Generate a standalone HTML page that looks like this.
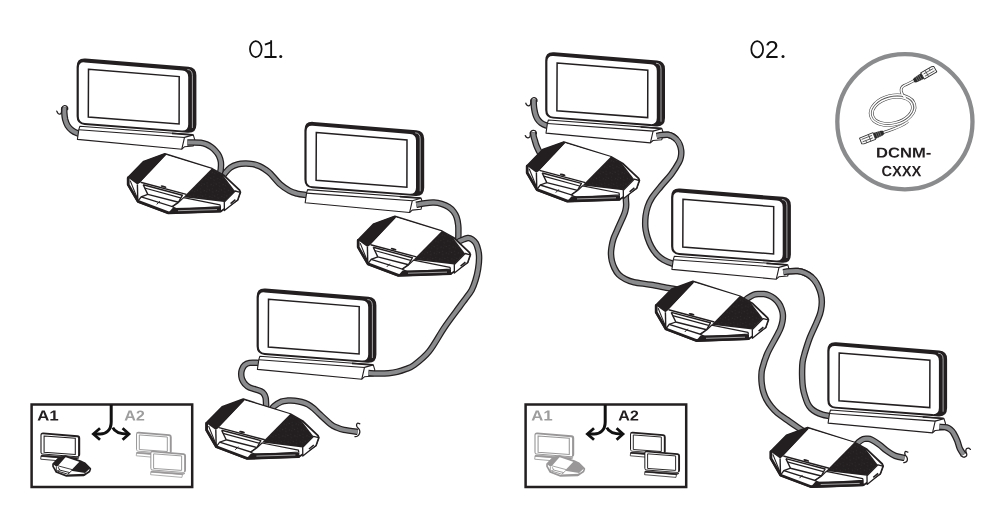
<!DOCTYPE html>
<html><head><meta charset="utf-8"><title>diagram</title>
<style>html,body{margin:0;padding:0;background:#fff;}svg{display:block;}text{font-family:"Liberation Sans",sans-serif;}</style></head><body>
<svg width="1000" height="530" viewBox="0 0 1000 530">
<rect width="1000" height="530" fill="#fff"/>
<defs>
<pattern id="spk" width="9" height="8" patternUnits="userSpaceOnUse" patternTransform="rotate(-42)">
<rect width="9" height="8" fill="#231f20"/>
<circle cx="1.5" cy="1.2" r="0.45" fill="#454142"/><circle cx="4.6" cy="2.6" r="0.4" fill="#3e3a3b"/><circle cx="7.4" cy="0.8" r="0.4" fill="#413d3e"/>
<circle cx="2.8" cy="5.0" r="0.45" fill="#3e3a3b"/><circle cx="6.2" cy="6.2" r="0.45" fill="#454142"/><circle cx="0.6" cy="7.0" r="0.35" fill="#3c3839"/>
</pattern>

<symbol id="scr" overflow="visible">
  <path d="M76.60,66.50 Q76.60,57.50 85.57,58.22 L188.43,66.46 Q196.40,67.10 196.40,75.10 L196.40,124.00 Q196.40,133.00 187.43,132.32 L84.58,124.51 Q76.60,123.90 76.60,115.90 Z" fill="#231f20"/>
  <path d="M187.40,69.13 Q192.40,69.23 192.40,75.23 L192.40,127.63" fill="none" stroke="#fff" stroke-width="0.6"/>
  <path d="M78.80,67.50 Q78.80,61.50 84.78,62.00 L182.22,70.20 Q188.20,70.70 188.20,76.70 L188.20,124.00 Q188.20,130.50 181.72,130.01 L84.78,122.65 Q78.80,122.20 78.80,116.20 Z" fill="#fff"/>
  <polygon points="88.5,68.9 179.2,76.2 179.1,123.5 88.3,116.6" fill="#fff" stroke="#231f20" stroke-width="1.5"/>
  <!-- base -->
  <polygon points="79.8,125.9 193.2,134.3 194.8,139.4 193.2,145.6 184.4,146.4 181.8,148.8 77.4,139.0 78.8,129.2" fill="#fff" stroke="#231f20" stroke-width="1.1" stroke-linejoin="round"/>
  <polyline points="78.8,129.4 184.5,137.0 181.8,148.8" fill="none" stroke="#231f20" stroke-width="1.1"/>
  <polyline points="184.5,137.0 193.2,134.5" fill="none" stroke="#231f20" stroke-width="1.1"/>
  <polyline points="172,132.9 192.6,134.4" fill="none" stroke="#231f20" stroke-width="1.7"/>
</symbol>

<symbol id="con" overflow="visible">
  <!-- outer body -->
  <polygon points="164.9,153.8 143.8,161.5 128.0,177.6 128.0,184.6 137.8,201.6 168.3,213.2 220.6,211.4 237.6,200.0 240.4,192.3 239.6,190.2 224.2,175.6 212,168.7" fill="#fff" stroke="#231f20" stroke-width="1.8" stroke-linejoin="round"/>
  <polyline points="128.2,178 128.2,184.6 138.0,201.4 168.5,212.9 220.4,211.1" fill="none" stroke="#231f20" stroke-width="2.8" stroke-linejoin="round" stroke-linecap="round"/>
  <!-- left dark facet -->
  <polygon points="164.6,153.6 143.8,161.3 127.8,177.6 137.4,184.6 140.6,182.2 166.2,155.4" fill="#231f20"/>
  <!-- top panel -->
  <polygon points="166.2,155.0 212,168.9 186.4,194.4 140.6,182.2" fill="#fff"/>
  <polyline points="140.6,182.2 186.4,194.4" fill="none" stroke="#231f20" stroke-width="1.4"/>
  <!-- speaker grille -->
  <polygon points="211.8,168.5 222.6,174.8 235.0,190.9 224.2,202.0 183.6,197.2 186.8,193.8" fill="url(#spk)"/>
  <!-- left lower bevel -->
  <polyline points="130.2,180.6 137.6,199.0" fill="none" stroke="#231f20" stroke-width="1.1"/>
  <polyline points="137.4,184.6 137.8,201.6" fill="none" stroke="#231f20" stroke-width="1.4"/>
  <!-- front panel lines -->
  <polyline points="143.2,184.8 182.4,195.2 178.6,202.2 147.8,194.4 143.2,184.8" fill="none" stroke="#231f20" stroke-width="1.4" stroke-linejoin="round"/>
  <polyline points="144.6,188.0 180.6,197.8" fill="none" stroke="#231f20" stroke-width="1.2"/>
  <polyline points="137.8,201.4 141.2,196.8 147.8,194.4" fill="none" stroke="#231f20" stroke-width="1.3"/>
  <polyline points="141.2,196.8 172.2,206.6 178.6,202.2" fill="none" stroke="#231f20" stroke-width="1.4"/>
  <polyline points="159.8,201.2 156.8,204.4" fill="none" stroke="#231f20" stroke-width="1"/>
  <!-- small button on top -->
  <ellipse cx="163.6" cy="186.6" rx="3" ry="1.0" transform="rotate(14 163.6 186.6)" fill="#231f20"/>
  <!-- under speaker facets -->
  <polygon points="183.6,197.6 220,204.8 220.4,206.6 177.6,209.4 172.4,206.8 178.6,202.4" fill="#fff" stroke="#231f20" stroke-width="1.2" stroke-linejoin="round"/>
  <polygon points="172.6,208.0 221,207.0 221,211 168.4,212.8" fill="#231f20"/>
  <polyline points="178,210.7 217,209.6" fill="none" stroke="#fff" stroke-width="0.6"/>
  <!-- right side facet -->
  <polygon points="235.2,191.0 240.2,192.3 237.6,200.0 224.4,210.6 224.3,202.0" fill="#fff" stroke="#231f20" stroke-width="1.3" stroke-linejoin="round"/>
  <polyline points="230.6,203.6 235.4,199.6" fill="none" stroke="#231f20" stroke-width="1.5"/>
</symbol>

<symbol id="scrm" overflow="visible">
  <path d="M76.60,66.50 Q76.60,57.50 85.57,58.22 L188.43,66.46 Q196.40,67.10 196.40,75.10 L196.40,124.00 Q196.40,133.00 187.43,132.32 L84.58,124.51 Q76.60,123.90 76.60,115.90 Z" fill="#231f20"/>
  <path d="M80.00,66.40 Q80.00,63.40 82.99,63.64 L187.01,72.16 Q190.00,72.40 190.00,75.40 L190.00,126.80 Q190.00,129.80 187.01,129.56 L82.99,121.24 Q80.00,121.00 80.00,118.00 Z" fill="#fff"/>
  <polygon points="87.6,68.6 181.6,75.6 181.6,124.2 87.6,117.6" fill="#fff" stroke="#231f20" stroke-width="3.2"/>
  <polygon points="78.4,129.2 184.5,137.4 182.8,147.6 77.4,138.6" fill="#fff" stroke="#231f20" stroke-width="2.6" stroke-linejoin="round"/>
  <polygon points="79.6,126.0 193,134.4 184.5,138.4 78.4,130.0" fill="#231f20" stroke="#231f20" stroke-width="2" stroke-linejoin="round"/>
</symbol>

<symbol id="conm" overflow="visible">
  <polygon points="164.9,153.8 143.8,161.5 128.0,177.6 128.0,184.6 137.8,201.6 168.3,213.2 220.6,211.4 237.6,200.0 240.2,192.3 239.0,190.2 224,175.2 209.5,168.8" fill="#fff" stroke="#231f20" stroke-width="5" stroke-linejoin="round"/>
  <polygon points="164.9,153.6 143.8,161.3 127.8,177.6 138,186 143,183 166.6,156" fill="#231f20"/>
  <polygon points="209.2,168.6 223.9,175 239.2,190.4 224.4,204.6 182.0,198.0 185.6,193.4" fill="#231f20"/>
  <polyline points="143,183 185.6,194.4" fill="none" stroke="#231f20" stroke-width="2.6"/>
  <polyline points="138,186 137.8,201.6" fill="none" stroke="#231f20" stroke-width="2.6"/>
  <polyline points="143.6,187 148,195.6 178.4,203.4 183,198" fill="none" stroke="#231f20" stroke-width="2.8"/>
  <polyline points="137.8,201.4 141,197.6 148,195.6" fill="none" stroke="#231f20" stroke-width="2.4"/>
  <polyline points="141,198.6 172.2,208.0 178.4,203.4" fill="none" stroke="#231f20" stroke-width="2.8"/>
  <polygon points="172.6,209.2 224,206.6 224,211.4 168.4,213" fill="#231f20"/>
  <polyline points="224.4,204.6 224.4,211" fill="none" stroke="#231f20" stroke-width="2.6"/>
</symbol>
</defs>
<ellipse cx="255.8" cy="49.05" rx="5.85" ry="8.0" fill="none" stroke="#111" stroke-width="1.75"/>
<path d="M264.9,44.6 L271.15,42.4 M271.15,40.3 V57 M264.5,57 H276.6" fill="none" stroke="#111" stroke-width="1.85"/>
<circle cx="280.75" cy="56.6" r="1.5" fill="#111"/>
<ellipse cx="757.2" cy="49.15" rx="5.9" ry="8.1" fill="none" stroke="#111" stroke-width="1.75"/>
<g transform="translate(764.941,57.9) scale(0.01222,-0.01186)" fill="#111"><path transform="translate(0,0)" d="M103 0V127Q154 244 227.5 333.5Q301 423 382.0 495.5Q463 568 542.5 630.0Q622 692 686.0 754.0Q750 816 789.5 884.0Q829 952 829 1038Q829 1154 761.0 1218.0Q693 1282 572 1282Q457 1282 382.5 1219.5Q308 1157 295 1044L111 1061Q131 1230 254.5 1330.0Q378 1430 572 1430Q785 1430 899.5 1329.5Q1014 1229 1014 1044Q1014 962 976.5 881.0Q939 800 865.0 719.0Q791 638 582 468Q467 374 399.0 298.5Q331 223 301 153H1036V0Z"/></g>
<circle cx="783" cy="56.6" r="1.5" fill="#111"/>
<path d="M64.4,107.2 C64.4,108.1 64.2,110.5 64.3,112.5 C64.4,114.5 64.7,117.3 65.2,119.5 C65.8,121.7 66.5,123.8 67.6,125.6 C68.7,127.4 70.3,129.1 72.0,130.4 C73.7,131.7 75.8,132.6 77.5,133.3 C79.2,134.0 81.2,134.4 82.0,134.6" fill="none" stroke="#231f20" stroke-width="6.5" stroke-linecap="butt" stroke-linejoin="round"/>
<path d="M64.4,107.2 C64.4,108.1 64.2,110.5 64.3,112.5 C64.4,114.5 64.7,117.3 65.2,119.5 C65.8,121.7 66.5,123.8 67.6,125.6 C68.7,127.4 70.3,129.1 72.0,130.4 C73.7,131.7 75.8,132.6 77.5,133.3 C79.2,134.0 81.2,134.4 82.0,134.6" fill="none" stroke="#8a8b8d" stroke-width="4.0" stroke-linecap="butt" stroke-linejoin="round"/>
<path d="M222.0,177.0 C222.4,176.4 223.2,175.2 224.6,173.6 C226.0,172.0 228.2,169.1 230.4,167.6 C232.6,166.1 235.2,165.1 237.7,164.4 C240.2,163.7 242.8,163.6 245.3,163.5 C247.8,163.4 250.4,163.7 252.8,164.1 C255.2,164.5 257.6,165.3 259.6,166.2 C261.6,167.1 263.2,168.1 265.0,169.4 C266.8,170.7 268.1,171.3 270.6,173.8 C273.1,176.3 276.9,181.4 280.0,184.2 C283.1,187.0 286.6,189.2 289.4,190.8 C292.2,192.4 294.3,192.9 297.0,193.6 C299.7,194.3 303.0,194.6 305.5,194.9 C308.0,195.2 310.9,195.3 312.0,195.4" fill="none" stroke="#231f20" stroke-width="6.5" stroke-linecap="butt" stroke-linejoin="round"/>
<path d="M222.0,177.0 C222.4,176.4 223.2,175.2 224.6,173.6 C226.0,172.0 228.2,169.1 230.4,167.6 C232.6,166.1 235.2,165.1 237.7,164.4 C240.2,163.7 242.8,163.6 245.3,163.5 C247.8,163.4 250.4,163.7 252.8,164.1 C255.2,164.5 257.6,165.3 259.6,166.2 C261.6,167.1 263.2,168.1 265.0,169.4 C266.8,170.7 268.1,171.3 270.6,173.8 C273.1,176.3 276.9,181.4 280.0,184.2 C283.1,187.0 286.6,189.2 289.4,190.8 C292.2,192.4 294.3,192.9 297.0,193.6 C299.7,194.3 303.0,194.6 305.5,194.9 C308.0,195.2 310.9,195.3 312.0,195.4" fill="none" stroke="#8a8b8d" stroke-width="4.0" stroke-linecap="butt" stroke-linejoin="round"/>
<path d="M263.0,363.6 C262.2,363.5 260.2,363.0 258.0,362.9 C255.8,362.8 251.8,362.5 249.5,362.9 C247.2,363.3 245.8,364.1 244.5,365.2 C243.2,366.3 242.6,368.0 242.0,369.5 C241.4,371.0 241.2,372.4 241.2,374.0 C241.2,375.6 241.4,377.4 242.0,379.0 C242.6,380.6 243.6,382.4 244.8,383.8 C246.1,385.2 246.8,386.3 249.5,387.5 C252.2,388.7 258.4,390.1 260.8,391.2 C263.2,392.3 263.2,392.9 264.0,394.0 C264.8,395.1 265.2,396.1 265.6,397.8 C266.0,399.5 266.0,402.5 266.1,404.4 C266.2,406.3 266.2,408.2 266.2,409.0" fill="none" stroke="#231f20" stroke-width="6.5" stroke-linecap="butt" stroke-linejoin="round"/>
<path d="M263.0,363.6 C262.2,363.5 260.2,363.0 258.0,362.9 C255.8,362.8 251.8,362.5 249.5,362.9 C247.2,363.3 245.8,364.1 244.5,365.2 C243.2,366.3 242.6,368.0 242.0,369.5 C241.4,371.0 241.2,372.4 241.2,374.0 C241.2,375.6 241.4,377.4 242.0,379.0 C242.6,380.6 243.6,382.4 244.8,383.8 C246.1,385.2 246.8,386.3 249.5,387.5 C252.2,388.7 258.4,390.1 260.8,391.2 C263.2,392.3 263.2,392.9 264.0,394.0 C264.8,395.1 265.2,396.1 265.6,397.8 C266.0,399.5 266.0,402.5 266.1,404.4 C266.2,406.3 266.2,408.2 266.2,409.0" fill="none" stroke="#8a8b8d" stroke-width="4.0" stroke-linecap="butt" stroke-linejoin="round"/>
<path d="M272.0,409.5 C272.3,409.0 272.4,407.6 274.0,406.3 C275.6,405.0 279.3,402.6 281.6,401.6 C283.9,400.7 285.8,400.8 288.0,400.6 C290.2,400.5 292.6,400.5 294.8,400.7 C297.1,400.9 299.3,401.4 301.5,402.0 C303.7,402.6 305.9,403.3 308.0,404.4 C310.1,405.5 311.9,407.0 313.8,408.6 C315.7,410.2 316.5,411.3 319.3,413.9 C322.1,416.5 327.8,421.9 330.7,424.2 C333.6,426.5 334.8,426.7 337.0,427.6 C339.2,428.6 340.5,429.2 343.9,429.9 C347.3,430.6 355.3,431.6 357.6,431.9" fill="none" stroke="#231f20" stroke-width="6.5" stroke-linecap="butt" stroke-linejoin="round"/>
<path d="M272.0,409.5 C272.3,409.0 272.4,407.6 274.0,406.3 C275.6,405.0 279.3,402.6 281.6,401.6 C283.9,400.7 285.8,400.8 288.0,400.6 C290.2,400.5 292.6,400.5 294.8,400.7 C297.1,400.9 299.3,401.4 301.5,402.0 C303.7,402.6 305.9,403.3 308.0,404.4 C310.1,405.5 311.9,407.0 313.8,408.6 C315.7,410.2 316.5,411.3 319.3,413.9 C322.1,416.5 327.8,421.9 330.7,424.2 C333.6,426.5 334.8,426.7 337.0,427.6 C339.2,428.6 340.5,429.2 343.9,429.9 C347.3,430.6 355.3,431.6 357.6,431.9" fill="none" stroke="#8a8b8d" stroke-width="4.0" stroke-linecap="butt" stroke-linejoin="round"/>
<path d="M533.7,99.6 C533.7,100.5 533.7,103.3 533.8,105.0 C533.9,106.7 534.1,108.2 534.4,109.8 C534.7,111.4 535.0,113.0 535.5,114.6 C536.0,116.1 536.6,117.7 537.5,119.1 C538.4,120.5 539.6,121.8 541.0,122.8 C542.4,123.8 544.3,124.8 546.0,125.4 C547.7,126.0 550.2,126.4 551.0,126.6" fill="none" stroke="#231f20" stroke-width="6.5" stroke-linecap="butt" stroke-linejoin="round"/>
<path d="M533.7,99.6 C533.7,100.5 533.7,103.3 533.8,105.0 C533.9,106.7 534.1,108.2 534.4,109.8 C534.7,111.4 535.0,113.0 535.5,114.6 C536.0,116.1 536.6,117.7 537.5,119.1 C538.4,120.5 539.6,121.8 541.0,122.8 C542.4,123.8 544.3,124.8 546.0,125.4 C547.7,126.0 550.2,126.4 551.0,126.6" fill="none" stroke="#8a8b8d" stroke-width="4.0" stroke-linecap="butt" stroke-linejoin="round"/>
<path d="M533.1,132.2 C533.2,133.0 533.5,135.7 533.8,137.0 C534.1,138.3 534.4,138.9 534.8,140.2 C535.2,141.5 535.7,143.5 536.2,145.0 C536.8,146.5 537.4,147.9 538.1,149.4 C538.8,150.9 539.7,152.4 540.5,154.0 C541.3,155.6 542.6,158.2 543.0,159.0" fill="none" stroke="#231f20" stroke-width="6.5" stroke-linecap="butt" stroke-linejoin="round"/>
<path d="M533.1,132.2 C533.2,133.0 533.5,135.7 533.8,137.0 C534.1,138.3 534.4,138.9 534.8,140.2 C535.2,141.5 535.7,143.5 536.2,145.0 C536.8,146.5 537.4,147.9 538.1,149.4 C538.8,150.9 539.7,152.4 540.5,154.0 C541.3,155.6 542.6,158.2 543.0,159.0" fill="none" stroke="#8a8b8d" stroke-width="4.0" stroke-linecap="butt" stroke-linejoin="round"/>
<path d="M626.5,192.0 C626.4,192.9 625.8,195.1 625.8,197.2 C625.8,199.3 626.2,202.7 626.2,204.8 C626.2,206.9 625.9,208.3 625.5,210.0 C625.1,211.7 625.2,211.8 623.8,215.2 C622.4,218.6 618.7,226.5 617.0,230.5 C615.3,234.5 614.3,236.2 613.4,239.0 C612.5,241.8 611.9,244.9 611.5,247.4 C611.1,249.9 610.9,251.7 611.0,254.0 C611.1,256.3 611.3,258.7 611.9,261.0 C612.5,263.3 613.3,265.7 614.4,268.0 C615.5,270.3 616.9,272.7 618.7,274.6 C620.5,276.5 622.9,277.9 625.4,279.2 C627.9,280.5 629.8,281.3 634.0,282.2 C638.2,283.1 645.0,283.8 650.9,284.8 C656.8,285.8 664.4,287.3 669.6,288.2 C674.8,289.1 677.9,289.6 682.0,290.4 C686.1,291.2 692.0,292.6 694.0,293.0" fill="none" stroke="#231f20" stroke-width="6.5" stroke-linecap="butt" stroke-linejoin="round"/>
<path d="M626.5,192.0 C626.4,192.9 625.8,195.1 625.8,197.2 C625.8,199.3 626.2,202.7 626.2,204.8 C626.2,206.9 625.9,208.3 625.5,210.0 C625.1,211.7 625.2,211.8 623.8,215.2 C622.4,218.6 618.7,226.5 617.0,230.5 C615.3,234.5 614.3,236.2 613.4,239.0 C612.5,241.8 611.9,244.9 611.5,247.4 C611.1,249.9 610.9,251.7 611.0,254.0 C611.1,256.3 611.3,258.7 611.9,261.0 C612.5,263.3 613.3,265.7 614.4,268.0 C615.5,270.3 616.9,272.7 618.7,274.6 C620.5,276.5 622.9,277.9 625.4,279.2 C627.9,280.5 629.8,281.3 634.0,282.2 C638.2,283.1 645.0,283.8 650.9,284.8 C656.8,285.8 664.4,287.3 669.6,288.2 C674.8,289.1 677.9,289.6 682.0,290.4 C686.1,291.2 692.0,292.6 694.0,293.0" fill="none" stroke="#8a8b8d" stroke-width="4.0" stroke-linecap="butt" stroke-linejoin="round"/>
<path d="M744.0,301.5 C744.6,300.9 746.1,299.3 747.7,298.2 C749.3,297.1 751.9,295.5 753.7,294.8 C755.5,294.1 756.9,294.1 758.6,294.0 C760.3,293.9 762.1,293.8 763.9,294.0 C765.7,294.2 767.5,294.7 769.2,295.4 C770.9,296.1 772.4,296.9 774.0,298.2 C775.6,299.5 777.3,301.2 778.6,303.0 C779.9,304.8 781.0,307.2 781.7,309.2 C782.4,311.2 782.8,313.0 782.9,315.0 C783.0,317.0 782.9,318.9 782.5,321.1 C782.1,323.3 781.5,325.7 780.6,328.0 C779.8,330.3 779.6,330.4 777.4,334.7 C775.2,339.0 769.8,347.9 767.3,353.6 C764.8,359.3 763.2,365.1 762.2,368.9 C761.2,372.7 761.5,374.0 761.4,376.5 C761.3,379.0 761.5,381.5 761.8,384.1 C762.1,386.7 762.6,389.4 763.4,392.0 C764.2,394.6 765.1,397.0 766.4,399.4 C767.7,401.8 769.4,404.3 771.2,406.6 C773.0,408.9 774.4,410.5 777.4,413.0 C780.4,415.5 785.9,419.1 789.3,421.5 C792.7,423.9 795.0,425.5 797.8,427.4 C800.6,429.3 804.6,432.1 806.0,433.0" fill="none" stroke="#231f20" stroke-width="6.5" stroke-linecap="butt" stroke-linejoin="round"/>
<path d="M744.0,301.5 C744.6,300.9 746.1,299.3 747.7,298.2 C749.3,297.1 751.9,295.5 753.7,294.8 C755.5,294.1 756.9,294.1 758.6,294.0 C760.3,293.9 762.1,293.8 763.9,294.0 C765.7,294.2 767.5,294.7 769.2,295.4 C770.9,296.1 772.4,296.9 774.0,298.2 C775.6,299.5 777.3,301.2 778.6,303.0 C779.9,304.8 781.0,307.2 781.7,309.2 C782.4,311.2 782.8,313.0 782.9,315.0 C783.0,317.0 782.9,318.9 782.5,321.1 C782.1,323.3 781.5,325.7 780.6,328.0 C779.8,330.3 779.6,330.4 777.4,334.7 C775.2,339.0 769.8,347.9 767.3,353.6 C764.8,359.3 763.2,365.1 762.2,368.9 C761.2,372.7 761.5,374.0 761.4,376.5 C761.3,379.0 761.5,381.5 761.8,384.1 C762.1,386.7 762.6,389.4 763.4,392.0 C764.2,394.6 765.1,397.0 766.4,399.4 C767.7,401.8 769.4,404.3 771.2,406.6 C773.0,408.9 774.4,410.5 777.4,413.0 C780.4,415.5 785.9,419.1 789.3,421.5 C792.7,423.9 795.0,425.5 797.8,427.4 C800.6,429.3 804.6,432.1 806.0,433.0" fill="none" stroke="#8a8b8d" stroke-width="4.0" stroke-linecap="butt" stroke-linejoin="round"/>
<path d="M855.5,446.0 C856.0,445.4 856.9,443.8 858.2,442.6 C859.5,441.5 862.0,439.7 863.5,439.1 C865.0,438.5 866.1,438.7 867.4,438.8 C868.7,438.9 869.4,438.6 871.4,439.6 C873.4,440.6 876.6,442.7 879.3,444.6 C881.9,446.5 884.6,449.3 887.3,451.2 C889.9,453.1 892.3,454.8 895.2,455.9 C898.1,457.0 903.0,457.6 904.6,457.9" fill="none" stroke="#231f20" stroke-width="6.5" stroke-linecap="butt" stroke-linejoin="round"/>
<path d="M855.5,446.0 C856.0,445.4 856.9,443.8 858.2,442.6 C859.5,441.5 862.0,439.7 863.5,439.1 C865.0,438.5 866.1,438.7 867.4,438.8 C868.7,438.9 869.4,438.6 871.4,439.6 C873.4,440.6 876.6,442.7 879.3,444.6 C881.9,446.5 884.6,449.3 887.3,451.2 C889.9,453.1 892.3,454.8 895.2,455.9 C898.1,457.0 903.0,457.6 904.6,457.9" fill="none" stroke="#8a8b8d" stroke-width="4.0" stroke-linecap="butt" stroke-linejoin="round"/>
<path d="M656.6,136.0 C657.5,135.8 660.1,135.2 662.0,135.0 C663.9,134.8 666.1,134.6 667.9,134.8 C669.7,135.0 671.2,135.6 672.6,136.4 C674.0,137.2 675.2,138.1 676.4,139.4 C677.6,140.7 678.8,142.6 679.6,144.4 C680.4,146.2 681.0,148.5 681.2,150.5 C681.4,152.5 681.3,154.6 680.9,156.6 C680.5,158.6 680.5,159.5 678.9,162.4 C677.3,165.3 674.3,170.2 671.3,174.2 C668.3,178.1 664.4,182.1 661.1,186.1 C657.9,190.1 654.0,194.5 651.8,198.0 C649.5,201.5 648.6,204.0 647.6,207.0 C646.6,210.0 646.0,213.2 645.6,216.0 C645.2,218.8 645.2,221.7 645.2,224.0 C645.2,226.3 645.3,227.8 645.7,230.0 C646.1,232.2 646.6,234.7 647.5,237.5 C648.4,240.3 649.8,243.8 651.3,246.6 C652.8,249.4 654.6,252.0 656.6,254.2 C658.6,256.4 660.8,258.2 663.4,259.8 C666.0,261.4 669.7,262.7 672.5,263.6 C675.3,264.5 678.8,264.8 680.0,265.0" fill="none" stroke="#231f20" stroke-width="6.5" stroke-linecap="butt" stroke-linejoin="round"/>
<path d="M656.6,136.0 C657.5,135.8 660.1,135.2 662.0,135.0 C663.9,134.8 666.1,134.6 667.9,134.8 C669.7,135.0 671.2,135.6 672.6,136.4 C674.0,137.2 675.2,138.1 676.4,139.4 C677.6,140.7 678.8,142.6 679.6,144.4 C680.4,146.2 681.0,148.5 681.2,150.5 C681.4,152.5 681.3,154.6 680.9,156.6 C680.5,158.6 680.5,159.5 678.9,162.4 C677.3,165.3 674.3,170.2 671.3,174.2 C668.3,178.1 664.4,182.1 661.1,186.1 C657.9,190.1 654.0,194.5 651.8,198.0 C649.5,201.5 648.6,204.0 647.6,207.0 C646.6,210.0 646.0,213.2 645.6,216.0 C645.2,218.8 645.2,221.7 645.2,224.0 C645.2,226.3 645.3,227.8 645.7,230.0 C646.1,232.2 646.6,234.7 647.5,237.5 C648.4,240.3 649.8,243.8 651.3,246.6 C652.8,249.4 654.6,252.0 656.6,254.2 C658.6,256.4 660.8,258.2 663.4,259.8 C666.0,261.4 669.7,262.7 672.5,263.6 C675.3,264.5 678.8,264.8 680.0,265.0" fill="none" stroke="#8a8b8d" stroke-width="4.0" stroke-linecap="butt" stroke-linejoin="round"/>
<path d="M783.2,272.2 C784.3,272.0 787.6,271.4 790.0,271.2 C792.4,271.0 795.3,270.7 797.8,271.0 C800.3,271.3 802.7,272.0 805.0,273.0 C807.3,274.0 809.5,275.3 811.4,277.0 C813.3,278.7 815.0,280.7 816.4,283.0 C817.8,285.3 819.0,288.1 819.9,290.6 C820.8,293.1 821.3,295.5 821.6,298.0 C821.9,300.5 821.9,303.1 821.6,305.8 C821.3,308.5 820.9,311.2 820.0,314.0 C819.1,316.8 818.2,318.8 816.5,322.8 C814.8,326.8 811.7,332.9 809.7,338.0 C807.7,343.1 805.8,349.6 804.6,353.6 C803.4,357.6 803.0,359.2 802.6,362.0 C802.2,364.8 802.2,367.8 802.1,370.6 C802.0,373.4 802.1,376.2 802.2,379.0 C802.3,381.8 802.5,384.7 802.9,387.5 C803.3,390.3 804.0,393.0 804.8,395.6 C805.6,398.2 806.6,401.3 807.6,403.4 C808.6,405.5 809.6,407.0 811.0,408.4 C812.4,409.8 814.1,411.0 816.0,412.0 C817.9,413.0 820.2,413.9 822.4,414.6 C824.6,415.3 826.9,415.6 829.2,416.0 C831.5,416.4 834.9,416.7 836.0,416.8" fill="none" stroke="#231f20" stroke-width="6.5" stroke-linecap="butt" stroke-linejoin="round"/>
<path d="M783.2,272.2 C784.3,272.0 787.6,271.4 790.0,271.2 C792.4,271.0 795.3,270.7 797.8,271.0 C800.3,271.3 802.7,272.0 805.0,273.0 C807.3,274.0 809.5,275.3 811.4,277.0 C813.3,278.7 815.0,280.7 816.4,283.0 C817.8,285.3 819.0,288.1 819.9,290.6 C820.8,293.1 821.3,295.5 821.6,298.0 C821.9,300.5 821.9,303.1 821.6,305.8 C821.3,308.5 820.9,311.2 820.0,314.0 C819.1,316.8 818.2,318.8 816.5,322.8 C814.8,326.8 811.7,332.9 809.7,338.0 C807.7,343.1 805.8,349.6 804.6,353.6 C803.4,357.6 803.0,359.2 802.6,362.0 C802.2,364.8 802.2,367.8 802.1,370.6 C802.0,373.4 802.1,376.2 802.2,379.0 C802.3,381.8 802.5,384.7 802.9,387.5 C803.3,390.3 804.0,393.0 804.8,395.6 C805.6,398.2 806.6,401.3 807.6,403.4 C808.6,405.5 809.6,407.0 811.0,408.4 C812.4,409.8 814.1,411.0 816.0,412.0 C817.9,413.0 820.2,413.9 822.4,414.6 C824.6,415.3 826.9,415.6 829.2,416.0 C831.5,416.4 834.9,416.7 836.0,416.8" fill="none" stroke="#8a8b8d" stroke-width="4.0" stroke-linecap="butt" stroke-linejoin="round"/>
<path d="M56.8,111.2 C57.0,111.6 57.5,112.9 58.0,113.4 C58.5,113.9 59.3,114.2 59.8,114.2 C60.3,114.2 60.9,113.7 61.2,113.2 C61.5,112.7 61.5,111.8 61.6,111.0 C61.7,110.2 61.4,109.3 61.6,108.6 C61.8,107.9 62.1,107.1 62.6,106.6 C63.1,106.1 63.9,105.7 64.6,105.6 C65.3,105.5 66.1,105.8 66.6,106.2 C67.1,106.6 67.4,107.2 67.6,107.8 C67.8,108.4 67.6,109.3 67.6,109.6" fill="none" stroke="#231f20" stroke-width="1.3" stroke-linecap="round"/>
<path d="M525.8,103.2 C526.0,103.5 526.3,104.6 526.8,105.0 C527.3,105.4 528.0,105.8 528.6,105.8 C529.2,105.8 529.8,105.3 530.2,104.8 C530.6,104.3 530.7,103.5 530.8,102.8 C530.9,102.1 530.6,101.3 530.8,100.6 C531.0,99.9 531.3,99.1 531.8,98.6 C532.3,98.1 533.1,97.7 533.8,97.6 C534.5,97.5 535.3,97.8 535.8,98.2 C536.3,98.6 536.7,99.3 536.9,99.8 C537.1,100.3 536.9,101.1 536.9,101.4" fill="none" stroke="#231f20" stroke-width="1.3" stroke-linecap="round"/>
<path d="M525.3,135.6 C525.5,135.9 525.9,136.8 526.4,137.2 C526.9,137.6 527.6,137.9 528.2,137.8 C528.8,137.7 529.4,137.3 529.8,136.8 C530.1,136.3 530.2,135.6 530.3,135.0 C530.4,134.4 530.1,133.6 530.2,133.0 C530.4,132.4 530.7,131.6 531.2,131.2 C531.7,130.8 532.5,130.5 533.2,130.4 C533.9,130.3 534.7,130.5 535.2,130.8 C535.7,131.1 536.0,131.9 536.2,132.4 C536.4,132.9 536.3,133.6 536.3,133.8" fill="none" stroke="#231f20" stroke-width="1.3" stroke-linecap="round"/>
<path d="M359.8,423.8 C359.5,423.7 358.3,423.1 357.8,423.2 C357.3,423.3 356.7,424.0 356.6,424.6 C356.5,425.2 356.6,426.1 357.0,426.8 C357.4,427.5 358.3,428.1 358.8,428.8 C359.3,429.5 359.7,430.3 359.8,431.2 C359.9,432.1 359.6,433.4 359.2,434.2 C358.8,435.0 357.9,435.8 357.2,436.2 C356.5,436.6 355.4,436.5 355.0,436.6" fill="none" stroke="#231f20" stroke-width="1.3" stroke-linecap="round"/>
<path d="M907.8,452.2 C907.5,452.1 906.3,451.3 905.8,451.4 C905.3,451.5 904.9,452.2 904.8,452.8 C904.7,453.4 904.9,454.3 905.2,455.0 C905.5,455.7 906.4,456.2 906.8,457.0 C907.2,457.8 907.5,458.8 907.4,459.6 C907.3,460.4 907.0,461.3 906.4,461.8 C905.8,462.3 904.2,462.5 903.8,462.6" fill="none" stroke="#231f20" stroke-width="1.3" stroke-linecap="round"/>
<path d="M970.4,449.4 C970.1,449.2 969.2,448.3 968.6,448.2 C968.0,448.1 967.3,448.2 966.8,448.6 C966.3,449.0 965.9,449.7 965.8,450.4 C965.7,451.1 966.0,451.9 966.2,452.6 C966.4,453.3 966.9,454.1 966.8,454.8 C966.7,455.5 966.3,456.2 965.8,456.6 C965.3,457.0 964.4,457.3 963.6,457.2 C962.8,457.1 961.6,456.2 961.2,456.0" fill="none" stroke="#231f20" stroke-width="1.3" stroke-linecap="round"/>
<use href="#scr" x="0" y="0.4"/>
<use href="#scr" x="227.8" y="63.7"/>
<use href="#scr" x="180" y="230.4"/>
<use href="#scr" x="468.6" y="-5.9"/>
<use href="#scr" x="594.5" y="130.4"/>
<use href="#scr" x="750.7" y="284.1"/>
<path d="M187.3,142.6 C188.4,142.6 191.8,142.4 194.0,142.4 C196.2,142.4 198.7,142.5 200.8,142.8 C202.9,143.1 204.8,143.7 206.6,144.4 C208.4,145.1 210.0,146.2 211.4,147.2 C212.8,148.2 213.9,149.2 215.2,150.6 C216.5,152.0 218.1,153.9 219.0,155.8 C219.9,157.7 220.6,159.9 220.9,162.1 C221.2,164.3 221.0,167.2 220.8,168.9 C220.7,170.7 220.2,171.4 220.0,172.6 C219.8,173.8 219.5,175.4 219.4,176.0" fill="none" stroke="#231f20" stroke-width="6.5" stroke-linecap="butt" stroke-linejoin="round"/>
<path d="M187.3,142.6 C188.4,142.6 191.8,142.4 194.0,142.4 C196.2,142.4 198.7,142.5 200.8,142.8 C202.9,143.1 204.8,143.7 206.6,144.4 C208.4,145.1 210.0,146.2 211.4,147.2 C212.8,148.2 213.9,149.2 215.2,150.6 C216.5,152.0 218.1,153.9 219.0,155.8 C219.9,157.7 220.6,159.9 220.9,162.1 C221.2,164.3 221.0,167.2 220.8,168.9 C220.7,170.7 220.2,171.4 220.0,172.6 C219.8,173.8 219.5,175.4 219.4,176.0" fill="none" stroke="#8a8b8d" stroke-width="4.0" stroke-linecap="butt" stroke-linejoin="round"/>
<path d="M416.2,204.8 C417.7,204.5 422.1,203.6 425.0,203.2 C427.9,202.8 431.1,202.5 433.9,202.6 C436.6,202.7 439.1,203.1 441.5,203.8 C443.9,204.5 446.6,205.7 448.6,207.0 C450.6,208.3 452.3,209.9 453.6,211.6 C454.9,213.3 455.8,214.9 456.6,217.1 C457.4,219.3 457.9,222.3 458.2,225.0 C458.5,227.7 458.4,230.5 458.4,233.0 C458.4,235.5 458.3,238.8 458.3,240.0" fill="none" stroke="#231f20" stroke-width="6.5" stroke-linecap="butt" stroke-linejoin="round"/>
<path d="M416.2,204.8 C417.7,204.5 422.1,203.6 425.0,203.2 C427.9,202.8 431.1,202.5 433.9,202.6 C436.6,202.7 439.1,203.1 441.5,203.8 C443.9,204.5 446.6,205.7 448.6,207.0 C450.6,208.3 452.3,209.9 453.6,211.6 C454.9,213.3 455.8,214.9 456.6,217.1 C457.4,219.3 457.9,222.3 458.2,225.0 C458.5,227.7 458.4,230.5 458.4,233.0 C458.4,235.5 458.3,238.8 458.3,240.0" fill="none" stroke="#8a8b8d" stroke-width="4.0" stroke-linecap="butt" stroke-linejoin="round"/>
<path d="M457.0,243.0 C457.5,242.7 458.2,241.7 460.0,240.9 C461.8,240.1 465.8,238.2 467.9,238.0 C470.0,237.8 471.1,238.7 472.4,239.6 C473.7,240.5 474.8,241.5 475.8,243.2 C476.8,244.9 477.6,247.6 478.2,250.0 C478.8,252.4 479.1,254.7 479.1,257.9 C479.1,261.1 478.7,265.2 478.1,269.0 C477.5,272.8 476.5,277.0 475.4,280.5 C474.3,284.0 473.3,287.0 471.7,290.0 C470.1,293.0 467.7,295.8 465.6,298.6 C463.6,301.4 462.9,302.1 459.4,307.0 C455.8,311.9 449.3,320.3 444.3,327.7 C439.3,335.1 434.2,345.1 429.2,351.3 C424.2,357.5 418.1,362.1 414.2,365.0 C410.3,367.9 408.8,367.9 406.0,369.0 C403.2,370.1 400.1,371.1 397.2,371.8 C394.3,372.5 391.3,372.9 388.5,373.2 C385.7,373.5 383.6,373.6 380.2,373.6 C376.8,373.6 370.4,373.1 368.4,373.0" fill="none" stroke="#231f20" stroke-width="6.5" stroke-linecap="butt" stroke-linejoin="round"/>
<path d="M457.0,243.0 C457.5,242.7 458.2,241.7 460.0,240.9 C461.8,240.1 465.8,238.2 467.9,238.0 C470.0,237.8 471.1,238.7 472.4,239.6 C473.7,240.5 474.8,241.5 475.8,243.2 C476.8,244.9 477.6,247.6 478.2,250.0 C478.8,252.4 479.1,254.7 479.1,257.9 C479.1,261.1 478.7,265.2 478.1,269.0 C477.5,272.8 476.5,277.0 475.4,280.5 C474.3,284.0 473.3,287.0 471.7,290.0 C470.1,293.0 467.7,295.8 465.6,298.6 C463.6,301.4 462.9,302.1 459.4,307.0 C455.8,311.9 449.3,320.3 444.3,327.7 C439.3,335.1 434.2,345.1 429.2,351.3 C424.2,357.5 418.1,362.1 414.2,365.0 C410.3,367.9 408.8,367.9 406.0,369.0 C403.2,370.1 400.1,371.1 397.2,371.8 C394.3,372.5 391.3,372.9 388.5,373.2 C385.7,373.5 383.6,373.6 380.2,373.6 C376.8,373.6 370.4,373.1 368.4,373.0" fill="none" stroke="#8a8b8d" stroke-width="4.0" stroke-linecap="butt" stroke-linejoin="round"/>
<path d="M939.3,426.8 C940.5,426.9 944.9,427.0 946.7,427.5 C948.6,428.0 949.3,428.7 950.4,429.6 C951.5,430.5 952.1,430.9 953.3,432.7 C954.4,434.5 956.2,438.0 957.3,440.7 C958.4,443.4 958.8,446.3 959.9,448.6 C961.0,450.9 963.0,453.6 963.6,454.6" fill="none" stroke="#231f20" stroke-width="6.5" stroke-linecap="butt" stroke-linejoin="round"/>
<path d="M939.3,426.8 C940.5,426.9 944.9,427.0 946.7,427.5 C948.6,428.0 949.3,428.7 950.4,429.6 C951.5,430.5 952.1,430.9 953.3,432.7 C954.4,434.5 956.2,438.0 957.3,440.7 C958.4,443.4 958.8,446.3 959.9,448.6 C961.0,450.9 963.0,453.6 963.6,454.6" fill="none" stroke="#8a8b8d" stroke-width="4.0" stroke-linecap="butt" stroke-linejoin="round"/>
<path d="M656.6,136.0 C657.5,135.8 660.1,135.2 662.0,135.0 C663.9,134.8 666.1,134.6 667.9,134.8 C669.7,135.0 671.2,135.6 672.6,136.4 C674.0,137.2 675.2,138.1 676.4,139.4" fill="none" stroke="#231f20" stroke-width="6.5" stroke-linecap="butt" stroke-linejoin="round"/>
<path d="M656.6,136.0 C657.5,135.8 660.1,135.2 662.0,135.0 C663.9,134.8 666.1,134.6 667.9,134.8 C669.7,135.0 671.2,135.6 672.6,136.4 C674.0,137.2 675.2,138.1 676.4,139.4 C677.6,140.7 678.8,142.6 679.6,144.4" fill="none" stroke="#8a8b8d" stroke-width="4.0" stroke-linecap="butt" stroke-linejoin="round"/>
<path d="M783.2,272.2 C784.3,272.0 787.6,271.4 790.0,271.2 C792.4,271.0 795.3,270.7 797.8,271.0 C800.3,271.3 802.7,272.0 805.0,273.0 C807.3,274.0 809.5,275.3 811.4,277.0" fill="none" stroke="#231f20" stroke-width="6.5" stroke-linecap="butt" stroke-linejoin="round"/>
<path d="M783.2,272.2 C784.3,272.0 787.6,271.4 790.0,271.2 C792.4,271.0 795.3,270.7 797.8,271.0 C800.3,271.3 802.7,272.0 805.0,273.0 C807.3,274.0 809.5,275.3 811.4,277.0 C813.3,278.7 815.0,280.7 816.4,283.0" fill="none" stroke="#8a8b8d" stroke-width="4.0" stroke-linecap="butt" stroke-linejoin="round"/>
<use href="#con" x="0" y="0"/>
<use href="#con" x="230" y="62.5"/>
<use href="#con" x="78.4" y="245.4"/>
<use href="#con" x="399" y="-11.8"/>
<use href="#con" x="528" y="127.6"/>
<use href="#con" x="642.7" y="273.8"/>
<circle cx="904.9" cy="121.8" r="67.6" fill="#fff" stroke="#8a8b8d" stroke-width="4.3"/>
<g fill="none" stroke-linecap="round">
<ellipse cx="892.6" cy="110.2" rx="22.8" ry="14.8" transform="rotate(-14 892.6 110.2)" stroke="#444" stroke-width="2.7"/>
<ellipse cx="892.4" cy="110.4" rx="20.4" ry="12.5" transform="rotate(-14 892.4 110.4)" stroke="#444" stroke-width="2.7"/>
<path d="M905.9,98.4 C900.6,94 899.3,88.2 904.0,85.6 C908,83.4 911.4,82.6 914.6,80.2" stroke="#444" stroke-width="2.8" stroke-linecap="butt"/>
<path d="M907.8,121.6 C902.5,126.6 892.4,129.4 883.2,132.6" stroke="#444" stroke-width="2.8" stroke-linecap="butt"/>
<ellipse cx="892.6" cy="110.2" rx="22.8" ry="14.8" transform="rotate(-14 892.6 110.2)" stroke="#fff" stroke-width="1.5"/>
<ellipse cx="892.4" cy="110.4" rx="20.4" ry="12.5" transform="rotate(-14 892.4 110.4)" stroke="#fff" stroke-width="1.5"/>
<path d="M905.9,98.4 C900.6,94 899.3,88.2 904.0,85.6 C908,83.4 911.4,82.6 914.6,80.2" stroke="#fff" stroke-width="1.5" stroke-linecap="butt"/>
<path d="M907.8,121.6 C902.5,126.6 892.4,129.4 883.2,132.6" stroke="#fff" stroke-width="1.5" stroke-linecap="butt"/>
</g>
<g transform="translate(913.8,80.9) rotate(-29.5)"><polygon points="0,-1.8 2,-2.6 10,-3.2 10,3.2 2,2.6 0,1.8" fill="#2a2a2a"/><path d="M3.5,-2.6 V2.6 M5.5,-2.8 V2.8 M7.5,-3 V3" stroke="#999" stroke-width="0.5" fill="none"/><polygon points="10,-3.6 22.5,-3.6 24.5,-2.8 24.5,3.4 10,3.6" fill="#fafafa" stroke="#2a2a2a" stroke-width="0.9" stroke-linejoin="round"/><path d="M12,-1.2 H23 M12,1.4 H23 M15,-3.6 V3.6 M19.5,-3.6 V-1.2" stroke="#333" stroke-width="0.7" fill="none"/></g>
<g transform="translate(883.6,132.4) rotate(158.8)"><polygon points="0,-1.8 2,-2.6 10,-3.2 10,3.2 2,2.6 0,1.8" fill="#2a2a2a"/><path d="M3.5,-2.6 V2.6 M5.5,-2.8 V2.8 M7.5,-3 V3" stroke="#999" stroke-width="0.5" fill="none"/><polygon points="10,-3.6 22.5,-3.6 24.5,-2.8 24.5,3.4 10,3.6" fill="#fafafa" stroke="#2a2a2a" stroke-width="0.9" stroke-linejoin="round"/><path d="M12,-1.2 H23 M12,1.4 H23 M15,-3.6 V3.6 M19.5,-3.6 V-1.2" stroke="#333" stroke-width="0.7" fill="none"/></g>
<g transform="translate(875.988,157.5) scale(0.00811,-0.00697)" fill="#231f20"><path transform="translate(0,0)" d="M1393 715Q1393 497 1307.5 334.5Q1222 172 1065.5 86.0Q909 0 707 0H137V1409H647Q1003 1409 1198.0 1229.5Q1393 1050 1393 715ZM1096 715Q1096 942 978.0 1061.5Q860 1181 641 1181H432V228H682Q872 228 984.0 359.0Q1096 490 1096 715Z"/><path transform="translate(1479,0)" d="M795 212Q1062 212 1166 480L1423 383Q1340 179 1179.5 79.5Q1019 -20 795 -20Q455 -20 269.5 172.5Q84 365 84 711Q84 1058 263.0 1244.0Q442 1430 782 1430Q1030 1430 1186.0 1330.5Q1342 1231 1405 1038L1145 967Q1112 1073 1015.5 1135.5Q919 1198 788 1198Q588 1198 484.5 1074.0Q381 950 381 711Q381 468 487.5 340.0Q594 212 795 212Z"/><path transform="translate(2958,0)" d="M995 0 381 1085Q399 927 399 831V0H137V1409H474L1097 315Q1079 466 1079 590V1409H1341V0Z"/><path transform="translate(4437,0)" d="M1307 0V854Q1307 883 1307.5 912.0Q1308 941 1317 1161Q1246 892 1212 786L958 0H748L494 786L387 1161Q399 929 399 854V0H137V1409H532L784 621L806 545L854 356L917 582L1176 1409H1569V0Z"/><path transform="translate(6143,0)" d="M80 409V653H600V409Z"/></g>
<g transform="translate(881.500,176.2) scale(0.00714,-0.00730)" fill="#231f20"><path transform="translate(0,0)" d="M795 212Q1062 212 1166 480L1423 383Q1340 179 1179.5 79.5Q1019 -20 795 -20Q455 -20 269.5 172.5Q84 365 84 711Q84 1058 263.0 1244.0Q442 1430 782 1430Q1030 1430 1186.0 1330.5Q1342 1231 1405 1038L1145 967Q1112 1073 1015.5 1135.5Q919 1198 788 1198Q588 1198 484.5 1074.0Q381 950 381 711Q381 468 487.5 340.0Q594 212 795 212Z"/><path transform="translate(1479,0)" d="M1038 0 684 561 330 0H18L506 741L59 1409H371L684 911L997 1409H1307L879 741L1348 0Z"/><path transform="translate(2845,0)" d="M1038 0 684 561 330 0H18L506 741L59 1409H371L684 911L997 1409H1307L879 741L1348 0Z"/><path transform="translate(4211,0)" d="M1038 0 684 561 330 0H18L506 741L59 1409H371L684 911L997 1409H1307L879 741L1348 0Z"/></g>
<rect x="31.6" y="404.5" width="160.6" height="82.5" fill="#fff" stroke="#231f20" stroke-width="2.5"/>
<g transform="translate(37.181,420.5) scale(0.00821,-0.00703)" fill="#231f20"><path transform="translate(0,0)" d="M1133 0 1008 360H471L346 0H51L565 1409H913L1425 0ZM739 1192 733 1170Q723 1134 709.0 1088.0Q695 1042 537 582H942L803 987L760 1123Z"/><path transform="translate(1479,0)" d="M129 0V209H478V1170L140 959V1180L493 1409H759V209H1082V0Z"/></g>
<g transform="translate(124.198,420.5) scale(0.00789,-0.00703)" fill="#9d9d9d"><path transform="translate(0,0)" d="M1133 0 1008 360H471L346 0H51L565 1409H913L1425 0ZM739 1192 733 1170Q723 1134 709.0 1088.0Q695 1042 537 582H942L803 987L760 1123Z"/><path transform="translate(1479,0)" d="M71 0V195Q126 316 227.5 431.0Q329 546 483 671Q631 791 690.5 869.0Q750 947 750 1022Q750 1206 565 1206Q475 1206 427.5 1157.5Q380 1109 366 1012L83 1028Q107 1224 229.5 1327.0Q352 1430 563 1430Q791 1430 913.0 1326.0Q1035 1222 1035 1034Q1035 935 996.0 855.0Q957 775 896.0 707.5Q835 640 760.5 581.0Q686 522 616.0 466.0Q546 410 488.5 353.0Q431 296 403 231H1057V0Z"/></g>
<path d="M111.19999999999999,405 V422 C111.19999999999999,430 106.19999999999999,434 100.19999999999999,434 L94.19999999999999,434" fill="none" stroke="#111" stroke-width="3"/>
<path d="M99.99999999999999,428.2 L93.39999999999999,434 L99.99999999999999,439.8" fill="none" stroke="#111" stroke-width="2.8" stroke-linejoin="miter"/>
<path d="M112.79999999999998,427.6 C114.69999999999999,432 119.19999999999999,434 128.2,434" fill="none" stroke="#111" stroke-width="2.8"/>
<path d="M122.6,428.2 L129.0,434 L122.6,439.8" fill="none" stroke="#111" stroke-width="2.8" stroke-linejoin="miter"/>
<g opacity="1"><use href="#scrm" transform="translate(15.0,413.2) scale(0.332)"/><use href="#conm" transform="translate(10.400000000000002,404.9) scale(0.333)"/></g>
<g opacity="0.46"><use href="#scrm" transform="translate(113.19999999999999,414.5) scale(0.298)"/><use href="#scrm" transform="translate(127.5,433.4) scale(0.298)"/></g>
<rect x="525.6" y="404.5" width="160.6" height="82.5" fill="#fff" stroke="#231f20" stroke-width="2.5"/>
<g transform="translate(531.181,420.5) scale(0.00821,-0.00703)" fill="#9d9d9d"><path transform="translate(0,0)" d="M1133 0 1008 360H471L346 0H51L565 1409H913L1425 0ZM739 1192 733 1170Q723 1134 709.0 1088.0Q695 1042 537 582H942L803 987L760 1123Z"/><path transform="translate(1479,0)" d="M129 0V209H478V1170L140 959V1180L493 1409H759V209H1082V0Z"/></g>
<g transform="translate(618.198,420.5) scale(0.00789,-0.00703)" fill="#231f20"><path transform="translate(0,0)" d="M1133 0 1008 360H471L346 0H51L565 1409H913L1425 0ZM739 1192 733 1170Q723 1134 709.0 1088.0Q695 1042 537 582H942L803 987L760 1123Z"/><path transform="translate(1479,0)" d="M71 0V195Q126 316 227.5 431.0Q329 546 483 671Q631 791 690.5 869.0Q750 947 750 1022Q750 1206 565 1206Q475 1206 427.5 1157.5Q380 1109 366 1012L83 1028Q107 1224 229.5 1327.0Q352 1430 563 1430Q791 1430 913.0 1326.0Q1035 1222 1035 1034Q1035 935 996.0 855.0Q957 775 896.0 707.5Q835 640 760.5 581.0Q686 522 616.0 466.0Q546 410 488.5 353.0Q431 296 403 231H1057V0Z"/></g>
<path d="M605.2,405 V422 C605.2,430 600.2,434 594.2,434 L588.2,434" fill="none" stroke="#111" stroke-width="3"/>
<path d="M594.0,428.2 L587.4000000000001,434 L594.0,439.8" fill="none" stroke="#111" stroke-width="2.8" stroke-linejoin="miter"/>
<path d="M606.8000000000001,427.6 C608.7,432 613.2,434 622.2,434" fill="none" stroke="#111" stroke-width="2.8"/>
<path d="M616.6,428.2 L623.0,434 L616.6,439.8" fill="none" stroke="#111" stroke-width="2.8" stroke-linejoin="miter"/>
<g opacity="0.46"><use href="#scrm" transform="translate(509.0,413.2) scale(0.332)"/><use href="#conm" transform="translate(504.40000000000003,404.9) scale(0.333)"/></g>
<g opacity="1"><use href="#scrm" transform="translate(607.2,414.5) scale(0.298)"/><use href="#scrm" transform="translate(621.5,433.4) scale(0.298)"/></g>
</svg>
</body></html>
